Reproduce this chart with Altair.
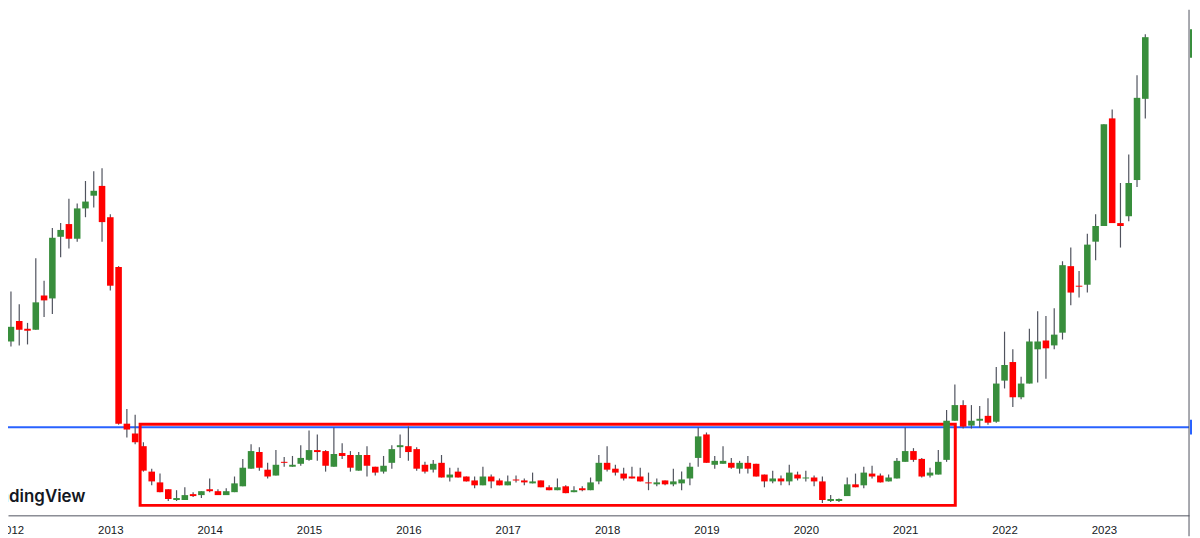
import altair as alt
import pandas as pd

# ---------------- data (monthly candles, Jan 2012 - Jun 2023) ----------------
MONTHS = [f"{y}-{m:02d}" for y in range(2012, 2024) for m in range(1, 13)][:138]

OPEN = [181, 202, 194, 193, 228, 225, 288, 301, 286, 317, 330, 340,
        308, 257, 97, 87, 74, 48, 37, 30, 19, 19, 25, 24,
        30, 28, 24, 27, 33, 51, 68, 50, 44, 58, 53, 56,
        60, 70, 69, 53, 67, 65, 49, 65, 53, 48, 57, 73,
        74, 71, 55, 50, 57, 42, 48, 43, 39, 34, 43, 39,
        34, 40, 39, 36, 39, 32, 29, 33, 27, 31, 29, 38,
        57, 51, 46, 43, 43, 37, 35, 39, 35, 36, 41, 62,
        86, 55, 56, 57, 51, 57, 56, 45, 38, 41, 38, 45,
        41, 42, 38, 18, 18, 23, 35, 34, 46, 44, 38, 41,
        58, 69, 61, 44, 45, 60, 100, 116, 95, 100, 105, 99,
        141, 160, 124, 138, 173, 182, 177, 190, 258, 238, 239, 283,
        299, 409, 302, 309, 346, 429]
HIGH = [232, 219, 200, 266, 243, 297, 302, 327, 322, 345, 355, 358,
        311, 258, 112, 106, 78, 51, 46, 30, 29, 32, 27, 28,
        41, 30, 31, 43, 61, 76, 73, 57, 70, 63, 64, 75,
        90, 86, 70, 93, 77, 69, 68, 74, 53, 64, 75, 86,
        94, 73, 58, 60, 65, 52, 52, 43, 43, 53, 45, 41,
        44, 44, 41, 47, 39, 34, 41, 34, 33, 33, 42, 65,
        74, 55, 52, 53, 52, 47, 41, 39, 51, 48, 57, 93,
        88, 64, 74, 62, 59, 64, 56, 45, 49, 44, 55, 48,
        49, 44, 43, 24, 20.5, 42, 46, 53, 54, 46, 45, 62,
        93, 72, 62, 52, 70, 111, 137, 121, 116, 115, 123, 155,
        191, 173, 145, 194, 212, 207, 215, 263, 277, 253, 291, 311,
        403, 418, 343, 372, 453, 495]
LOW = [176, 177, 178, 193, 206, 209, 267, 276, 283, 308, 318, 283,
       233, 96, 83, 76, 48, 34, 27, 18, 18, 19, 22, 21,
       27, 24, 24, 27, 33, 51, 49, 41, 44, 53, 53, 54,
       59, 59, 48, 53, 61, 48, 49, 43, 44, 46, 51, 62,
       59, 49, 46, 47, 42, 38, 42, 38, 31, 34, 31, 34,
       34, 37, 34, 36, 32, 29, 29, 26, 27, 28, 29, 35,
       48, 44, 39, 41, 38, 29, 33, 34, 33, 29, 34, 53,
       57, 51, 56, 51, 46, 46, 43, 32, 36, 34, 34, 39,
       38, 33, 16, 17, 17, 23, 32, 31, 41, 37, 38, 41,
       58, 58, 42, 42, 45, 58, 100, 92, 92, 93, 96, 98,
       133, 114, 122, 138, 139, 143, 173, 183, 218, 226, 231, 264,
       299, 302, 277, 304, 339, 409]
CLOSE = [196, 193, 192, 221, 223, 287, 295, 286, 317, 324, 335, 303,
         238, 97, 91, 78, 49, 38, 27, 20, 21, 24, 23, 28,
         28, 24, 28, 36, 52, 69, 52, 43, 55, 57, 55, 62,
         70, 68, 54, 66, 64, 52, 65, 54, 47, 54, 71, 75,
         68, 51, 48, 56, 42, 45, 42, 38, 34, 43, 38, 34,
         38, 39, 37, 38, 32, 29, 32, 26, 29, 29, 37, 57,
         50, 47, 41, 41, 38, 36, 37, 35, 38, 40, 53, 84,
         57, 59, 59, 52, 57, 51, 43, 38, 41, 38, 47, 41,
         42, 38, 19, 20, 20, 35, 32, 47, 43, 37, 42, 59,
         69, 60, 43, 47, 58, 100, 116, 94, 100, 102, 98, 138,
         157, 124, 138, 181, 181, 174, 188, 259, 231, 237, 280, 299,
         403, 302, 299, 343, 430, 492]

YEARS = list(range(2012, 2024))
SUPPORT_LEVEL = [93.3]
BOX_X0 = [15.6]
BOX_X1 = [114.05]
BOX_TOP = [96.3]
BOX_BOTTOM = [13.5]
TAG_TOP = [500, 101]
TAG_BOTTOM = [471, 86]
TAG_KIND = ["last", "level"]

# ---------------- tables ----------------
df = pd.DataFrame({
    "month": MONTHS,
    "i": list(range(len(MONTHS))),
    "open": OPEN, "high": HIGH, "low": LOW, "close": CLOSE,
})
df["dir"] = ["up" if c >= o else "down" for o, c in zip(OPEN, CLOSE)]

box_df = pd.DataFrame({"x0": BOX_X0, "x1": BOX_X1, "top": BOX_TOP, "bottom": BOX_BOTTOM})
level_df = pd.DataFrame({"level": SUPPORT_LEVEL})
tag_df = pd.DataFrame({"top": TAG_TOP, "bottom": TAG_BOTTOM, "kind": TAG_KIND})

W, H = 1189, 509
PAD_B = 21
GREEN, RED, BLUE, GREY = "#388e3c", "#ff0000", "#2962ff", "#50535e"

xs = alt.Scale(domain=[-0.357, 142.28], nice=False, zero=False, padding=0)
ys = alt.Scale(domain=[3.3, 520], nice=False, zero=False, padding=0)
X_AX = alt.Axis(values=[12 * (y - 2012) for y in YEARS],
                labelExpr="'' + (2012 + datum.value / 12)",
                grid=False, ticks=False, domainColor=GREY, domainWidth=1,
                labelColor="#131722", labelFont="Liberation Sans",
                labelFontSize=11.5, labelPadding=9, labelFlush=False,
                labelOverlap=False, title=None)

level = alt.Chart(level_df).mark_rule(color=BLUE, strokeWidth=2).encode(
    y=alt.Y("level:Q", scale=ys, axis=None), x=alt.value(0), x2=alt.value(W))

box = alt.Chart(box_df).mark_rect(filled=False, stroke=RED, strokeWidth=3).encode(
    x=alt.X("x0:Q", scale=xs, axis=X_AX), x2="x1:Q",
    y=alt.Y("top:Q", scale=ys, axis=None), y2="bottom:Q")

wicks = alt.Chart(df).mark_rule(color=GREY, strokeWidth=1.2).encode(
    x=alt.X("i:Q", scale=xs, axis=X_AX),
    y=alt.Y("low:Q", scale=ys, axis=None), y2="high:Q")

bodies = alt.Chart(df).mark_bar(size=6.6).encode(
    x=alt.X("i:Q", scale=xs, axis=X_AX),
    y=alt.Y("open:Q", scale=ys, axis=None), y2="close:Q",
    color=alt.Color("dir:N", scale=alt.Scale(domain=["up", "down"], range=[GREEN, RED]), legend=None))

border = alt.Chart(level_df).mark_rule(color=GREY, strokeWidth=1).encode(
    x=alt.value(W), y=alt.value(0), y2=alt.value(H + PAD_B))

tags = alt.Chart(tag_df).mark_rect().encode(
    x=alt.value(W + 1), x2=alt.value(W + 4),
    y=alt.Y("top:Q", scale=ys, axis=None), y2="bottom:Q",
    color=alt.Color("kind:N", scale=alt.Scale(domain=["last", "level"], range=[GREEN, BLUE]), legend=None))

watermark = alt.Chart(level_df).mark_text(
    text="TradingView", align="right", baseline="alphabetic", fontSize=17,
    fontWeight=600, font="Inter", color="#131722").encode(
    x=alt.value(78), y=alt.value(496))

chart = alt.layer(level, box, wicks, bodies, border, tags, watermark).resolve_scale(
    color="independent"
).properties(
    width=W, height=H,
    padding={"left": 0, "top": 0, "right": 3, "bottom": PAD_B},
    autosize=alt.AutoSizeParams(type="none"),
    background="white",
).configure_view(strokeWidth=0)

chart.save("out.html", embed_options={"renderer": "svg", "actions": False})
